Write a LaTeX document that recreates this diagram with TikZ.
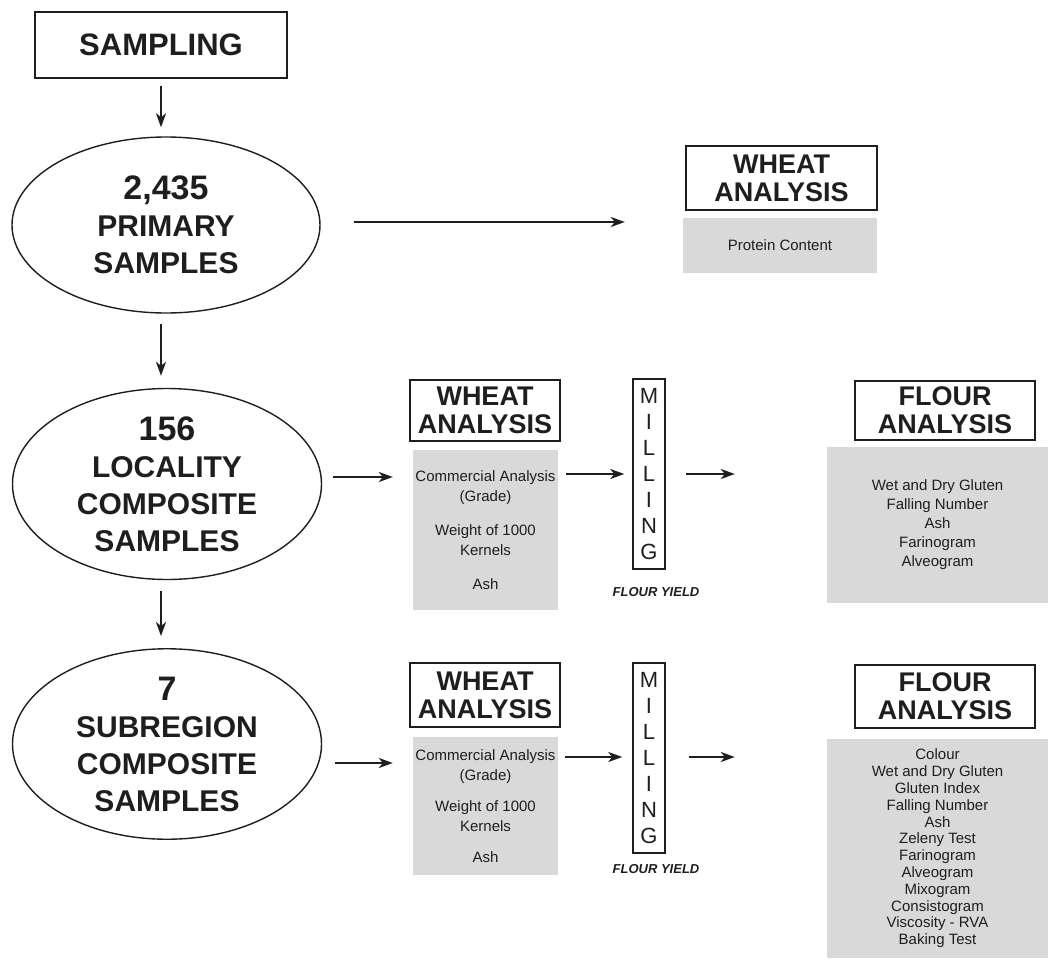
\documentclass[tikz,border=0pt]{standalone}
\usepackage{fontspec}
\setmainfont{Liberation Sans}
\usetikzlibrary{shapes.geometric,arrows.meta}
\definecolor{ink}{HTML}{1E1E1E}
\definecolor{panel}{HTML}{D9D9D9}
\begin{document}
\begin{tikzpicture}[x=1pt,y=-1pt,
  every node/.style={text=ink, inner sep=0pt, align=center},
  arr/.style={draw=ink, line width=2pt, -{Stealth[length=14pt,width=10pt,inset=4pt]}},
  boxed/.style={draw=ink, line width=1.4pt, rectangle},
  hdr/.style={boxed, font=\bfseries\fontsize{27}{28}\selectfont},
  oval/.style={ellipse, draw=ink, line width=1.4pt, font=\bfseries\fontsize{30}{37}\selectfont},
  panelbox/.style={rectangle, fill=panel, font=\fontsize{15}{20}\selectfont},
  mill/.style={boxed, line width=1.5pt, minimum width=32pt, minimum height=190pt, font=\fontsize{22}{26}\selectfont},
  yield/.style={font=\bfseries\itshape\fontsize{13}{15}\selectfont}
]
\useasboundingbox (0,0) rectangle (1049,969);

% Sampling
\node[boxed, minimum width=252pt, minimum height=66pt, font=\bfseries\fontsize{31}{36}\selectfont] (samp) at (161,45) {SAMPLING};

% Ellipses
\node[oval, minimum width=308pt, minimum height=176pt] (e1) at (166,225) {{\fontsize{34}{37}\selectfont 2,435}\\PRIMARY\\SAMPLES};
\node[oval, minimum width=309pt, minimum height=175pt] (e2) at (167,484) {{\fontsize{34}{37}\selectfont 156}\\LOCALITY\\COMPOSITE\\SAMPLES};
\node[oval, minimum width=309pt, minimum height=174pt] (e3) at (167,744) {{\fontsize{34}{37}\selectfont 7}\\SUBREGION\\COMPOSITE\\SAMPLES};

% Row 1
\node[hdr, minimum width=191pt, minimum height=64pt] (wh1) at (781.5,178) {WHEAT\\ANALYSIS};
\node[panelbox, minimum width=194pt, minimum height=55pt] (p1) at (780,245.5) {Protein Content};

% Row 2
\node[hdr, minimum width=150pt, minimum height=61pt] (wh2) at (485,410.5) {WHEAT\\ANALYSIS};
\node[panelbox, minimum width=145pt, minimum height=160pt] (g2) at (485.5,530) {Commercial Analysis\\(Grade)\\[14pt]Weight of 1000\\Kernels\\[14pt]Ash};
\node[mill] (m2) at (649,474) {M\\I\\L\\L\\I\\N\\G};
\node[yield] (fy2) at (656,592) {FLOUR YIELD};
\node[hdr, minimum width=180pt, minimum height=59pt] (fl2) at (945,410.5) {FLOUR\\ANALYSIS};
\node[panelbox, minimum width=221pt, minimum height=156pt, font=\fontsize{15}{19}\selectfont] (fg2) at (937.5,525) {Wet and Dry Gluten\\Falling Number\\Ash\\Farinogram\\Alveogram};

% Row 3
\node[hdr, minimum width=150pt, minimum height=64pt] (wh3) at (485,695) {WHEAT\\ANALYSIS};
\node[panelbox, minimum width=145pt, minimum height=138pt] (g3) at (485.5,806) {Commercial Analysis\\(Grade)\\[11pt]Weight of 1000\\Kernels\\[11pt]Ash};
\node[mill] (m3) at (649,758) {M\\I\\L\\L\\I\\N\\G};
\node[yield] (fy3) at (656,869) {FLOUR YIELD};
\node[hdr, minimum width=180pt, minimum height=63pt] (fl3) at (945,696.5) {FLOUR\\ANALYSIS};
\node[panelbox, minimum width=221pt, minimum height=219pt, font=\fontsize{15}{16.8}\selectfont] (fg3) at (937.5,848.5) {Colour\\Wet and Dry Gluten\\Gluten Index\\Falling Number\\Ash\\Zeleny Test\\Farinogram\\Alveogram\\Mixogram\\Consistogram\\Viscosity - RVA\\Baking Test};

% Vertical connectors
\draw[arr, shorten <=7pt, shorten >=9pt] (samp.south) -- (samp.south |- e1.north);
\draw[arr, shorten <=10pt, shorten >=12pt] (samp.south |- e1.south) -- (samp.south |- e2.north);
\draw[arr, shorten <=11pt, shorten >=12pt] (samp.south |- e2.south) -- (samp.south |- e3.north);

% Horizontal connectors
\draw[arr, shorten <=33pt, shorten >=58pt] ([yshift=3pt]e1.east) -- ([yshift=3pt]e1.east -| p1.west);
\draw[arr, shorten <=11pt, shorten >=20pt] ([yshift=7pt]e2.east) -- ([yshift=7pt]e2.east -| g2.west);
\draw[arr, shorten <=8pt, shorten >=8pt] ([yshift=56pt]g2.east) -- ([yshift=56pt]g2.east -| m2.west);
\draw[arr, shorten <=20pt, shorten >=92pt] ([yshift=56pt]g2.east -| m2.east) -- ([yshift=56pt]g2.east -| fg2.west);
\draw[arr, shorten <=13pt, shorten >=20pt] ([yshift=-19pt]e3.east) -- ([yshift=-19pt]e3.east -| g3.west);
\draw[arr, shorten <=7pt, shorten >=10pt] ([yshift=49pt]g3.east) -- ([yshift=49pt]g3.east -| m3.west);
\draw[arr, shorten <=23pt, shorten >=92pt] ([yshift=49pt]g3.east -| m3.east) -- ([yshift=49pt]g3.east -| fg3.west);
\end{tikzpicture}
\end{document}
